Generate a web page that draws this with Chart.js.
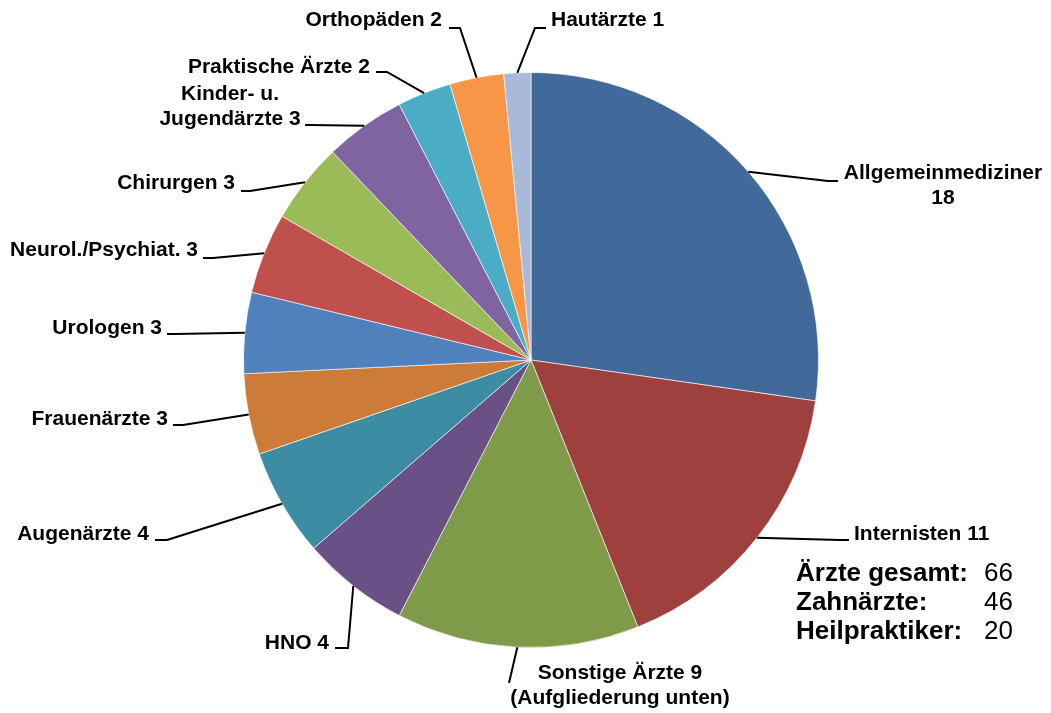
<!DOCTYPE html>
<html>
<head>
<meta charset="utf-8">
<script src="https://cdn.jsdelivr.net/npm/chart.js@4/dist/chart.umd.min.js"></script>
<style>
  html, body { margin: 0; padding: 0; background: #fff; }
  #wrap { width: 1051px; height: 713px; position: relative; }
</style>
</head>
<body>
<div id="wrap"><canvas id="Aerzte"></canvas></div>
<script>
// Ärzte nach Fachrichtung
const categories = ["Allgemeinmediziner", "Internisten", "Sonstige Ärzte", "HNO", "Augenärzte",
  "Frauenärzte", "Urologen", "Neurol./Psychiat.", "Chirurgen", "Kinder- u. Jugendärzte",
  "Praktische Ärzte", "Orthopäden", "Hautärzte"];
const counts = [18, 11, 9, 4, 4, 3, 3, 3, 3, 3, 2, 2, 1];
const sliceColors = ["#416A9B", "#9E413E", "#7F9A48", "#695185", "#3C8DA3", "#CC7B38", "#4F81BD",
  "#C0504D", "#9BBB59", "#8064A2", "#4BACC6", "#F79646", "#A9B9D8"];

// Zusammenfassung rechts unten
const summaryLabels = ["Ärzte gesamt:", "Zahnärzte:", "Heilpraktiker:"];
const summaryValues = [66, 46, 20];

// label text lines
const labelLines = [
  ["Allgemeinmediziner", "18"],
  ["Internisten 11"],
  ["Sonstige Ärzte 9", "(Aufgliederung unten)"],
  ["HNO 4"],
  ["Augenärzte 4"],
  ["Frauenärzte 3"],
  ["Urologen 3"],
  ["Neurol./Psychiat. 3"],
  ["Chirurgen 3"],
  ["Kinder- u.", "Jugendärzte 3"],
  ["Praktische Ärzte 2"],
  ["Orthopäden 2"],
  ["Hautärzte 1"]
];

// label placement: elbow point, line end, text anchor x / first line y, alignment
const labelPlace = [
  { ex: 828, ey: 181, fx: 838, fy: 181, tx: 943, ty: 173, align: "center" },
  { ex: 840, ey: 540, fx: 849, fy: 540, tx: 854, ty: 534, align: "left" },
  { ex: 509, ey: 683, fx: 509, fy: 683, tx: 620, ty: 673, align: "center" },
  { ex: 348, ey: 648, fx: 335, fy: 648, tx: 329, ty: 643, align: "right" },
  { ex: 167, ey: 540, fx: 155, fy: 540, tx: 149, ty: 534, align: "right" },
  { ex: 183, ey: 425, fx: 173, fy: 425, tx: 168, ty: 419, align: "right" },
  { ex: 175, ey: 334, fx: 167, fy: 334, tx: 162, ty: 328, align: "right" },
  { ex: 213, ey: 258, fx: 203, fy: 258, tx: 198, ty: 250, align: "right" },
  { ex: 250, ey: 191, fx: 241, fy: 191, tx: 235, ty: 183, align: "right" },
  { ex: 310, ey: 125, fx: 305, fy: 125, tx: 230, ty: 94, align: "center" },
  { ex: 387, ey: 72, fx: 376, fy: 72, tx: 370, ty: 67, align: "right" },
  { ex: 460, ey: 28, fx: 449, fy: 28, tx: 442, ty: 20, align: "right" },
  { ex: 535, ey: 28, fx: 546, fy: 28, tx: 551, ty: 20, align: "left" }
];

const FONT = '"Liberation Sans", Arial, sans-serif';

const leaderLabels = {
  id: "leaderLabels",
  afterDatasetsDraw(chart) {
    const ctx = chart.ctx;
    const arcs = chart.getDatasetMeta(0).data;
    ctx.save();
    ctx.strokeStyle = "#000";
    ctx.lineWidth = 2;
    ctx.fillStyle = "#000";
    ctx.font = "bold 21px " + FONT;
    ctx.textBaseline = "middle";
    arcs.forEach((arc, i) => {
      const p = labelPlace[i];
      const mid = (arc.startAngle + arc.endAngle) / 2;
      const ax = arc.x + Math.cos(mid) * arc.outerRadius;
      const ay = arc.y + Math.sin(mid) * arc.outerRadius;
      ctx.beginPath();
      ctx.moveTo(ax, ay);
      ctx.lineTo(p.ex, p.ey);
      ctx.lineTo(p.fx, p.fy);
      ctx.stroke();
      ctx.textAlign = p.align;
      labelLines[i].forEach((line, k) => {
        ctx.fillText(line, p.tx, p.ty + k * 25);
      });
    });

    // summary block
    summaryLabels.forEach((lbl, k) => {
      const y = 574 + k * 29;
      ctx.textAlign = "left";
      ctx.font = "bold 26px " + FONT;
      ctx.fillText(lbl, 796, y);
      ctx.font = "26px " + FONT;
      ctx.fillText(String(summaryValues[k]), 984, y);
    });
    ctx.restore();
  }
};

new Chart("Aerzte", {
  type: "pie",
  data: {
    labels: categories,
    datasets: [{
      data: counts,
      backgroundColor: sliceColors,
      borderColor: "rgba(255,255,255,0.6)",
      borderWidth: 1
    }]
  },
  options: {
    responsive: true,
    maintainAspectRatio: false,
    animation: false,
    layout: { padding: { left: 243, right: 232, top: 72, bottom: 65 } },
    plugins: {
      legend: { display: false },
      tooltip: { enabled: false }
    }
  },
  plugins: [leaderLabels]
});
</script>
</body>
</html>
